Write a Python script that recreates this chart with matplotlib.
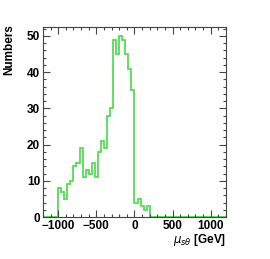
import numpy as np
from matplotlib import pyplot as plt
from matplotlib.ticker import MultipleLocator

plt.rcParams['font.family'] = ['Liberation Sans', 'DejaVu Sans']

# histogram: 60 bins of 40 GeV from -1200 to 1200
bin_lo = -1200
bin_hi = 1200
n_bins = 60
counts = [0, 0, 0, 0, 0,
          8, 7, 5, 9, 10, 14, 15, 19, 11, 13, 12, 15, 11, 18, 21, 19,
          28, 30, 49, 45, 50, 49, 45, 41, 35,
          4, 5, 3, 2, 3,
          0, 0, 0, 0, 0, 0, 0, 0, 0, 0, 0, 0, 0, 0, 0,
          0, 0, 0, 0, 0, 0, 0, 0, 0, 0]
edges = np.linspace(bin_lo, bin_hi, n_bins + 1)

fig = plt.figure(figsize=(2.7, 2.59), dpi=100)
ax = fig.add_axes([0.159, 0.162, 0.678, 0.734])

ax.stairs(counts, edges, color='#55dd55', linewidth=1.3, zorder=1)

ax.set_xlim(bin_lo, bin_hi)
ax.set_ylim(0, 52.5)
ax.xaxis.set_major_locator(MultipleLocator(500))
ax.xaxis.set_minor_locator(MultipleLocator(100))
ax.yaxis.set_major_locator(MultipleLocator(10))
ax.yaxis.set_minor_locator(MultipleLocator(2))
ax.tick_params(which='both', direction='in', top=True, right=True,
               color='#444444', width=0.8)
ax.tick_params(which='major', length=5, labelsize=8.5, pad=2)
ax.tick_params(which='minor', length=2.5)
for lab in ax.get_xticklabels() + ax.get_yticklabels():
    lab.set_fontweight('bold')
for s in ax.spines.values():
    s.set_color('#444444')
    s.set_linewidth(0.8)

ax.set_ylabel('Numbers', fontsize=8.5, fontweight='bold')
ax.yaxis.set_label_coords(-0.15, 0.88)
ax.text(1.0, -0.08, r'$\mu_{s\theta}$ [GeV]', transform=ax.transAxes,
        ha='right', va='top', fontsize=8.5, fontweight='bold')

plt.savefig('out.png', dpi=100)
